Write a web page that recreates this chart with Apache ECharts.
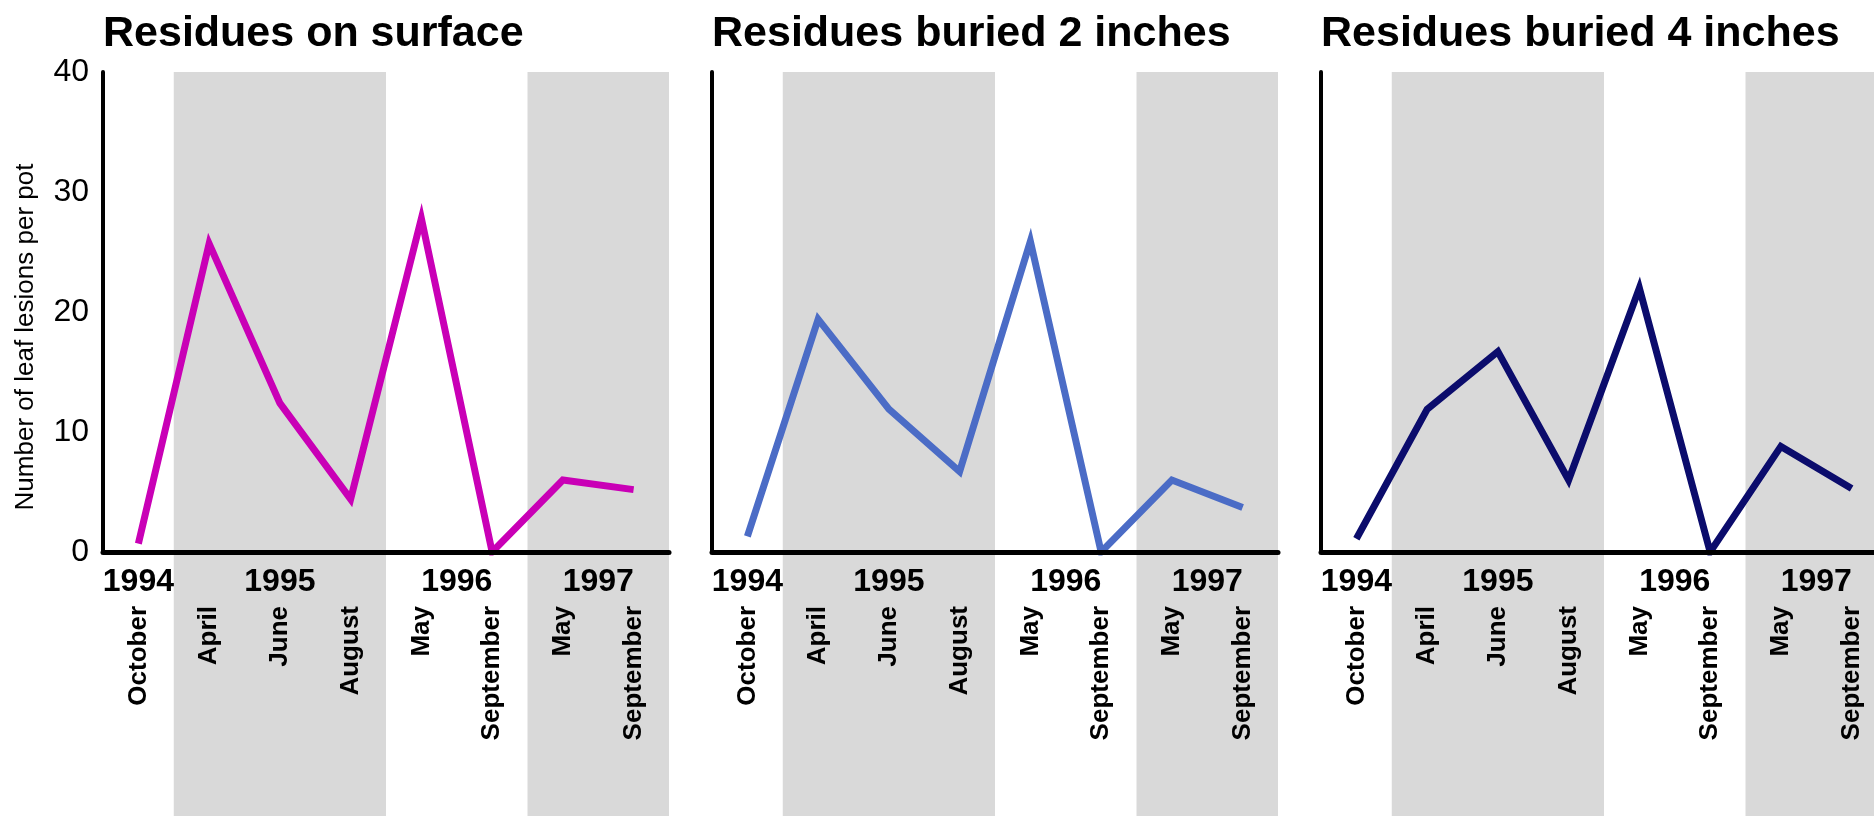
<!DOCTYPE html>
<html>
<head>
<meta charset="utf-8">
<title>Leaf lesions per pot</title>
<script src="https://cdn.jsdelivr.net/npm/echarts@6/dist/echarts.min.js"></script>
<style>
  html, body { margin: 0; padding: 0; background: #fff; }
  #chart { width: 1874px; height: 816px; }
</style>
</head>
<body>
<div id="chart"></div>
<script>
// sampling dates (x axis)
const months = ['October', 'April', 'June', 'August', 'May', 'September', 'May', 'September']
// year labels sit under the month categories (position in category units)
const years = ['1994', '1995', '1996', '1997']
const yearPos = [0, 2, 4.5, 6.5]
// 1 = shaded season band
const shaded = [0, 1, 1, 1, 0, 0, 1, 1]

const panelTitles = ['Residues on surface', 'Residues buried 2 inches', 'Residues buried 4 inches']
const surface = [0.7, 25.7, 12.4, 4.4, 27.8, 0, 6.0, 5.2]
const buried2 = [1.3, 19.4, 11.9, 6.7, 25.9, 0, 6.0, 3.7]
const buried4 = [1.1, 11.9, 16.7, 6.0, 22.0, 0, 8.8, 5.3]
const colors = ['#c900b6', '#4b6cc6', '#0b0c6c']

const yTicks = [0, 10, 20, 30, 40]
const yName = 'Number of leaf lesions per pot'

const FONT = '"Liberation Sans", Arial, sans-serif'
const panelLeft = [103, 712, 1321]
const plotW = 566
const plotTop = 72
const plotH = 480

// consecutive shaded categories -> [first, last] index pairs
function shadedRuns(flags) {
  const runs = []
  let start = -1
  flags.forEach((f, k) => {
    if (f && start < 0) start = k
    if (!f && start >= 0) { runs.push([start, k - 1]); start = -1 }
  })
  if (start >= 0) runs.push([start, flags.length - 1])
  return runs
}

// half-category slots from the left edge to the right edge of the plot
const yearSlots = new Array(months.length * 2 + 1).fill('')
yearPos.forEach((p, k) => { yearSlots[Math.round((p + 0.5) * 2)] = years[k] })

const chart = echarts.init(document.getElementById('chart'))

const seriesData = [surface, buried2, buried4]
const grid = []
const xAxis = []
const yAxis = []
const series = []
const title = []

panelLeft.forEach((left, i) => {
  // grid 2i: the plot, grid 2i+1: shading that runs down to the page bottom
  grid.push({ left: left, top: plotTop, width: plotW, height: plotH, outerBoundsMode: 'none' })
  grid.push({ left: left, top: plotTop, width: plotW, bottom: 0, outerBoundsMode: 'none' })

  title.push({
    text: panelTitles[i],
    left: left - 5,
    top: 8,
    textStyle: { fontFamily: FONT, fontSize: 43, fontWeight: 'bold', color: '#000' }
  })

  // month axis
  xAxis.push({
    type: 'category',
    gridIndex: 2 * i,
    data: months,
    boundaryGap: true,
    z: 10,
    axisLine: { onZero: false, lineStyle: { color: '#000', width: 5 } },
    axisTick: { show: false },
    axisLabel: {
      rotate: 90,
      margin: 54,
      interval: 0,
      fontFamily: FONT,
      fontSize: 26,
      fontWeight: 'bold',
      color: '#000'
    }
  })
  // year labels (kept above the grey bands)
  xAxis.push({
    type: 'category',
    gridIndex: 2 * i,
    position: 'bottom',
    data: yearSlots,
    boundaryGap: false,
    z: 10,
    axisLine: { show: false, onZero: false },
    axisTick: { show: false },
    splitLine: { show: false },
    axisLabel: {
      interval: 0,
      hideOverlap: false,
      margin: 14,
      fontFamily: FONT,
      fontSize: 32,
      fontWeight: 'bold',
      color: '#000'
    }
  })
  // shading axis (hidden), same category units
  xAxis.push({
    type: 'value',
    gridIndex: 2 * i + 1,
    min: -0.5,
    max: 7.5,
    show: false
  })

  yAxis.push({
    type: 'value',
    gridIndex: 2 * i,
    min: yTicks[0],
    max: yTicks[yTicks.length - 1],
    interval: 10,
    z: 10,
    name: i === 0 ? yName : '',
    nameLocation: 'middle',
    nameGap: 64,
    nameTextStyle: { fontFamily: FONT, fontSize: 26, color: '#000', padding: [0, 50, 0, 0] },
    axisLine: { show: true, onZero: false, lineStyle: { color: '#000', width: 4 } },
    axisTick: { show: false },
    splitLine: { show: false },
    axisLabel: {
      show: i === 0,
      margin: 14,
      fontFamily: FONT,
      fontSize: 32,
      color: '#000'
    }
  })
  yAxis.push({
    type: 'value',
    gridIndex: 2 * i + 1,
    min: 0,
    max: 1,
    show: false
  })

  // grey season bands
  series.push({
    type: 'line',
    xAxisIndex: 3 * i + 2,
    yAxisIndex: 2 * i + 1,
    data: [],
    silent: true,
    z: 0,
    markArea: {
      silent: true,
      itemStyle: { color: '#d9d9d9' },
      data: shadedRuns(shaded).map(([a, b]) => [
        { xAxis: a - 0.5, yAxis: 0 },
        { xAxis: b + 0.5, yAxis: 1 }
      ])
    }
  })
  series.push({
    type: 'line',
    xAxisIndex: 3 * i,
    yAxisIndex: 2 * i,
    data: seriesData[i],
    symbol: 'none',
    z: 5,
    lineStyle: { color: colors[i], width: 7, join: 'miter', cap: 'butt' }
  })
})

chart.setOption({
  animation: false,
  backgroundColor: '#fff',
  title: title,
  grid: grid,
  xAxis: xAxis,
  yAxis: yAxis,
  series: series
})
</script>
</body>
</html>
